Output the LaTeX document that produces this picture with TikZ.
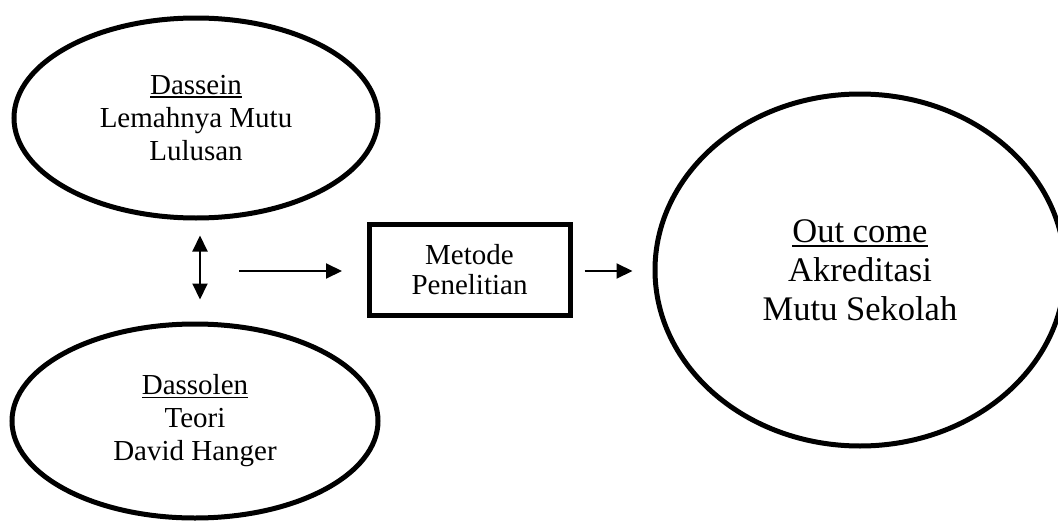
\documentclass[tikz,border=0pt]{standalone}
\usepackage{fontspec}
\setmainfont{Liberation Serif}
\usetikzlibrary{arrows.meta,shapes.geometric}
\newcommand\ulx[2]{\setbox0\hbox{#2}\rlap{\rule[-#1]{\wd0}{1.7pt}}\box0}
\begin{document}
\begin{tikzpicture}[x=1pt,y=-1pt,
  oval/.style={ellipse,draw,line width=5pt,inner sep=0pt,align=center},
  boxnode/.style={draw,line width=5pt,align=center,inner sep=0pt},
  tip/.tip={Triangle[length=16pt,width=15pt]},
  arr/.style={line width=2pt,-tip},
  darr/.style={line width=2pt,tip-tip},
  smallfont/.style={font=\fontsize{29}{33}\selectfont},
  bigfont/.style={font=\fontsize{34.5}{39}\selectfont}]
\useasboundingbox (0,0) rectangle (1058,522);
\node[oval,smallfont,minimum width=364pt,minimum height=200pt] (sein) at (196,118)
  {\ulx{3.5pt}{Dassein}\\Lemahnya Mutu\\Lulusan};
\node[oval,smallfont,minimum width=366pt,minimum height=194pt] (solen) at (195,421)
  {\ulx{3.5pt}{Dassolen}\\Teori\\David Hanger};
\node[oval,bigfont,minimum width=410pt,minimum height=352pt] (big) at (860,270)
  {\ulx{4.5pt}{Out come}\\Akreditasi\\Mutu Sekolah};
\node[boxnode,font=\fontsize{29}{30}\selectfont,minimum width=201pt,minimum height=91pt] (box) at (469.5,269.5)
  {Metode\\Penelitian};
\draw[darr,shorten <=15pt,shorten >=22pt] ([xshift=4pt]sein.south) -- ([xshift=5pt]solen.north);
\coordinate (h0) at (239,271);
\coordinate (h1) at (342,271);
\draw[arr] (h0) -- (h1);
\draw[arr,shorten <=12pt,shorten >=20pt] ([yshift=-1.5pt]box.east) -- ([yshift=-1.5pt]box.east -| big.west);
\end{tikzpicture}
\end{document}
